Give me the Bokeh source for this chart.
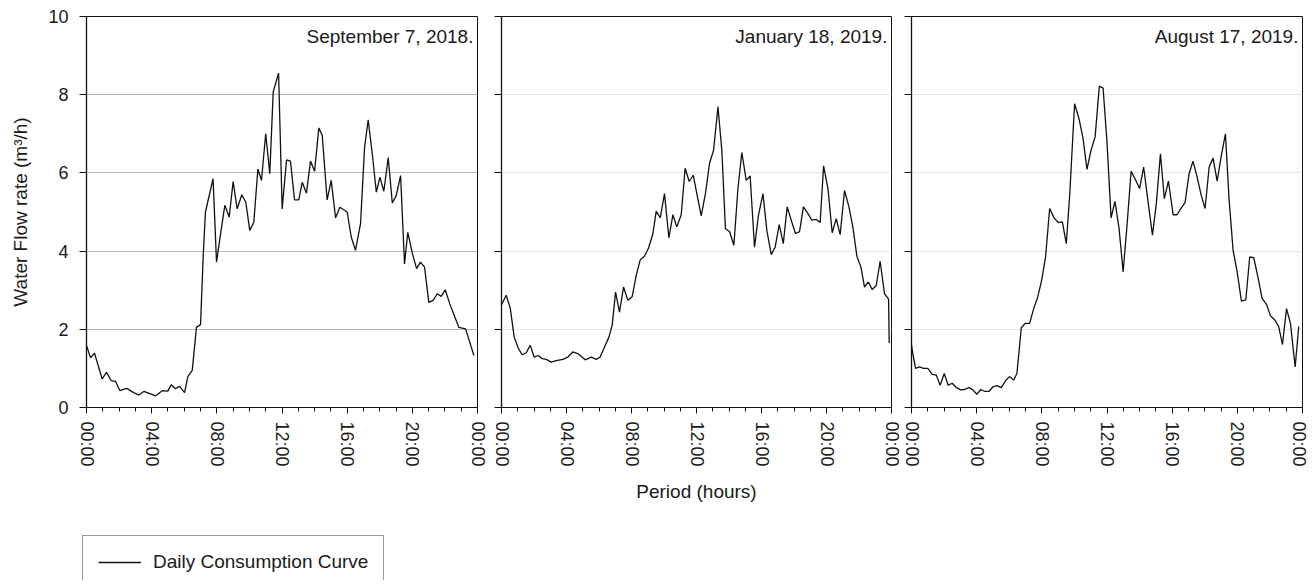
from bokeh.plotting import figure
from bokeh.models import Range1d, FixedTicker, Label, Legend, LegendItem
from bokeh.layouts import row, column
from bokeh.embed import file_html
from bokeh.resources import INLINE

FONT = "Liberation Sans"

# ---------------- data ----------------
panel_titles = ["September 7, 2018.", "January 18, 2019.", "August 17, 2019."]
legend_label = "Daily Consumption Curve"
y_label = "Water Flow rate (m\u00b3/h)"
x_label = "Period (hours)"

tick_hours = [0, 4, 8, 12, 16, 20, 24]
tick_labels = ["00:00", "04:00", "08:00", "12:00", "16:00", "20:00", "00:00"]
y_ticks = [0, 2, 4, 6, 8, 10]

sep_hours = [0, 0.25, 0.49, 0.96, 1.23, 1.51, 1.78, 2.05, 2.46, 2.9,
             3.21, 3.52, 3.93, 4.24, 4.65, 4.99, 5.2, 5.46, 5.71, 6.02,
             6.22, 6.49, 6.75, 7.0, 7.16, 7.3, 7.77, 7.98, 8.23, 8.49,
             8.76, 9.0, 9.25, 9.53, 9.78, 10.02, 10.27, 10.52, 10.74, 11.0,
             11.25, 11.46, 11.79, 12.01, 12.28, 12.52, 12.77, 13.03, 13.24, 13.5,
             13.75, 14.0, 14.26, 14.47, 14.77, 15.02, 15.29, 15.55, 16.0, 16.25,
             16.51, 16.82, 17.07, 17.29, 17.54, 17.79, 18.01, 18.25, 18.52, 18.77,
             19.01, 19.28, 19.52, 19.72, 20.01, 20.26, 20.5, 20.75, 21.01, 21.28,
             21.53, 21.77, 22.02, 22.3, 22.55, 22.85, 23.27, 23.78]
sep_flow = [1.59, 1.27, 1.39, 0.73, 0.90, 0.69, 0.67, 0.43, 0.49, 0.38,
            0.32, 0.41, 0.35, 0.30, 0.43, 0.42, 0.58, 0.48, 0.54, 0.38,
            0.79, 0.95, 2.05, 2.12, 3.84, 5.0, 5.85, 3.72, 4.44, 5.17,
            4.87, 5.78, 5.08, 5.44, 5.25, 4.53, 4.74, 6.1, 5.81, 7.0,
            5.98, 8.07, 8.55, 5.08, 6.33, 6.3, 5.31, 5.31, 5.76, 5.48,
            6.3, 6.04, 7.15, 6.96, 5.31, 5.81, 4.85, 5.12, 5.0, 4.36,
            4.02, 4.7, 6.66, 7.36, 6.49, 5.51, 5.89, 5.53, 6.39, 5.23,
            5.42, 5.93, 3.67, 4.48, 3.93, 3.55, 3.72, 3.59, 2.69, 2.74,
            2.91, 2.84, 3.01, 2.65, 2.38, 2.05, 2.01, 1.33]

jan_hours = [0, 0.29, 0.54, 0.78, 1.03, 1.27, 1.52, 1.77, 2.01, 2.26,
             2.5, 2.75, 3.06, 3.37, 3.78, 4.08, 4.39, 4.7, 5.15, 5.52,
             5.83, 6.07, 6.34, 6.61, 6.81, 7.02, 7.26, 7.51, 7.78, 8.04,
             8.29, 8.54, 8.8, 9.05, 9.32, 9.52, 9.77, 10.03, 10.3, 10.55,
             10.79, 11.06, 11.3, 11.55, 11.8, 12.02, 12.29, 12.55, 12.8, 13.05,
             13.32, 13.56, 13.78, 14.03, 14.3, 14.55, 14.79, 15.06, 15.3, 15.57,
             15.81, 16.09, 16.33, 16.6, 16.84, 17.09, 17.34, 17.58, 17.83, 18.09,
             18.34, 18.58, 18.86, 19.1, 19.37, 19.61, 19.82, 20.09, 20.35, 20.6,
             20.84, 21.11, 21.38, 21.62, 21.87, 22.12, 22.34, 22.57, 22.81, 23.06,
             23.3, 23.57, 23.82, 23.86]
jan_flow = [2.63, 2.87, 2.54, 1.8, 1.52, 1.35, 1.40, 1.59, 1.29, 1.33,
            1.25, 1.23, 1.16, 1.2, 1.23, 1.29, 1.42, 1.38, 1.22, 1.29,
            1.23, 1.29, 1.55, 1.8, 2.1, 2.95, 2.44, 3.08, 2.74, 2.83,
            3.38, 3.78, 3.87, 4.08, 4.45, 5.02, 4.85, 5.47, 4.34, 4.93,
            4.62, 4.93, 6.12, 5.78, 5.94, 5.47, 4.9, 5.47, 6.24, 6.58,
            7.69, 6.58, 4.57, 4.5, 4.15, 5.6, 6.52, 5.81, 5.92, 4.1,
            4.91, 5.47, 4.53, 3.91, 4.1, 4.68, 4.19, 5.13, 4.79, 4.45,
            4.5, 5.13, 4.96, 4.79, 4.81, 4.73, 6.18, 5.6, 4.47, 4.83,
            4.42, 5.55, 5.13, 4.62, 3.87, 3.59, 3.08, 3.21, 3.02, 3.12,
            3.74, 2.91, 2.77, 1.65]

aug_hours = [0, 0.08, 0.25, 0.49, 0.74, 1.0, 1.27, 1.52, 1.76, 2.01,
             2.25, 2.5, 2.75, 3.01, 3.26, 3.52, 3.77, 4.01, 4.26, 4.51,
             4.75, 5.0, 5.25, 5.51, 5.77, 6.02, 6.27, 6.47, 6.74, 6.98,
             7.25, 7.5, 7.74, 7.99, 8.23, 8.48, 8.75, 9.01, 9.26, 9.5,
             9.71, 10.01, 10.28, 10.53, 10.77, 11.02, 11.27, 11.53, 11.76, 12.0,
             12.25, 12.49, 12.74, 12.99, 13.23, 13.48, 13.72, 14.0, 14.25, 14.52,
             14.79, 15.03, 15.28, 15.52, 15.77, 16.06, 16.3, 16.55, 16.79, 17.04,
             17.28, 17.53, 17.78, 18.02, 18.27, 18.51, 18.76, 19.02, 19.27, 19.49,
             19.74, 19.99, 20.25, 20.52, 20.76, 21.01, 21.28, 21.52, 21.79, 22.03,
             22.3, 22.54, 22.77, 23.02, 23.26, 23.55, 23.77]
aug_flow = [1.6, 1.38, 1.0, 1.04, 1.0, 1.0, 0.85, 0.83, 0.57, 0.87,
            0.57, 0.62, 0.51, 0.45, 0.46, 0.51, 0.45, 0.34, 0.46, 0.41,
            0.41, 0.53, 0.56, 0.51, 0.68, 0.79, 0.7, 0.87, 2.04, 2.15,
            2.15, 2.53, 2.81, 3.26, 3.85, 5.09, 4.85, 4.73, 4.75, 4.19,
            5.43, 7.77, 7.39, 6.88, 6.09, 6.58, 6.92, 8.22, 8.17, 6.79,
            4.85, 5.27, 4.58, 3.47, 4.66, 6.04, 5.85, 5.6, 6.15, 5.26,
            4.41, 5.22, 6.49, 5.34, 5.79, 4.93, 4.93, 5.1, 5.24, 5.98,
            6.3, 5.9, 5.43, 5.09, 6.15, 6.38, 5.79, 6.45, 7.0, 5.34,
            4.02, 3.47, 2.72, 2.75, 3.85, 3.83, 3.3, 2.79, 2.64, 2.35,
            2.24, 2.07, 1.61, 2.53, 2.15, 1.04, 2.07]

TEXT = "#1a1a1a"
INK = "#111111"


def make_panel(hours, flow, title, fw, bl, br, grid_color, first=False, xlab=None):
    p = figure(frame_width=fw, frame_height=391,
               x_range=Range1d(0, 24), y_range=Range1d(0, 10),
               output_backend="svg", toolbar_location=None,
               min_border_left=bl, min_border_right=br,
               min_border_top=16, min_border_bottom=123)
    p.background_fill_color = "white"
    p.border_fill_color = "white"
    p.outline_line_color = INK
    p.outline_line_width = 1

    r = p.line(hours, flow, line_color=INK, line_width=1.3)

    # x axis
    xa = p.xaxis[0]
    xa.ticker = FixedTicker(ticks=tick_hours, minor_ticks=list(range(25)))
    xa.major_label_overrides = {h: lab for h, lab in zip(tick_hours, tick_labels)}
    xa.major_label_orientation = "vertical"
    xa.major_label_text_font = FONT
    xa.major_label_text_font_size = "18px"
    xa.major_label_text_color = TEXT
    xa.major_label_standoff = 8
    xa.major_tick_out = 6
    xa.major_tick_in = 0
    xa.minor_tick_out = 4
    xa.minor_tick_in = 0
    xa.axis_line_color = INK
    xa.major_tick_line_color = INK
    xa.minor_tick_line_color = INK
    if xlab:
        xa.axis_label = xlab
        xa.axis_label_text_font = FONT
        xa.axis_label_text_font_size = "19px"
        xa.axis_label_text_font_style = "normal"
        xa.axis_label_text_color = TEXT
        xa.axis_label_standoff = 11

    # y axis
    ya = p.yaxis[0]
    ya.axis_line_color = INK
    ya.axis_line_width = 1.3
    if first:
        ya.ticker = FixedTicker(ticks=y_ticks, minor_ticks=[])
        ya.major_tick_out = 7
        ya.major_tick_in = 0
        ya.minor_tick_out = 0
        ya.major_tick_line_color = INK
        ya.major_label_text_font = FONT
        ya.major_label_text_font_size = "18px"
        ya.major_label_text_color = TEXT
        ya.major_label_standoff = 11
        ya.axis_label = y_label
        ya.axis_label_text_font = FONT
        ya.axis_label_text_font_size = "19px"
        ya.axis_label_text_font_style = "normal"
        ya.axis_label_text_color = TEXT
        ya.axis_label_standoff = 14
    else:
        # unlabeled tick marks only
        ya.ticker = FixedTicker(ticks=[], minor_ticks=y_ticks)
        ya.minor_tick_out = 7
        ya.minor_tick_in = 0
        ya.minor_tick_line_color = INK
        ya.minor_tick_line_width = 1

    p.xgrid.visible = False
    p.ygrid.ticker = FixedTicker(ticks=y_ticks)
    p.ygrid.grid_line_color = grid_color
    p.ygrid.grid_line_width = 1

    p.add_layout(Label(x=23.75, y=9.49, text=title, text_align="right",
                       text_baseline="middle", text_font=FONT,
                       text_font_size="19px", text_color=TEXT))
    return p, r


p1, r1 = make_panel(sep_hours, sep_flow, panel_titles[0], 391, 86, 11, "#b8b8b8", first=True)
p2, r2 = make_panel(jan_hours, jan_flow, panel_titles[1], 390, 13, 10, "#e6e6e6", xlab=x_label)
p3, r3 = make_panel(aug_hours, aug_flow, panel_titles[2], 391, 10, 6, "#e6e6e6")

# legend strip under the panels (its series lies outside the strip's visible range,
# so only the legend swatch shows)
lp = figure(width=420, height=50, x_range=Range1d(0, 24), y_range=Range1d(100, 101),
            x_axis_type=None, y_axis_type=None, output_backend="svg",
            toolbar_location=None, min_border=0)
lp.outline_line_color = None
lp.grid.visible = False
lp.background_fill_color = "white"
lp.border_fill_color = "white"
swatch = lp.line(sep_hours, sep_flow, line_color=INK, line_width=1.3)

legend = Legend(items=[LegendItem(label=legend_label, renderers=[swatch])],
                location=(82, -9), margin=0, padding=15,
                glyph_width=43, glyph_height=22, label_height=22,
                label_standoff=12, label_text_font=FONT,
                label_text_font_size="19px", label_text_color=TEXT,
                border_line_color="#333333", border_line_width=1,
                background_fill_color="white", background_fill_alpha=1)
lp.add_layout(legend)

layout = column(row(p1, p2, p3), lp)
open("out.html", "w").write(file_html(layout, INLINE))
